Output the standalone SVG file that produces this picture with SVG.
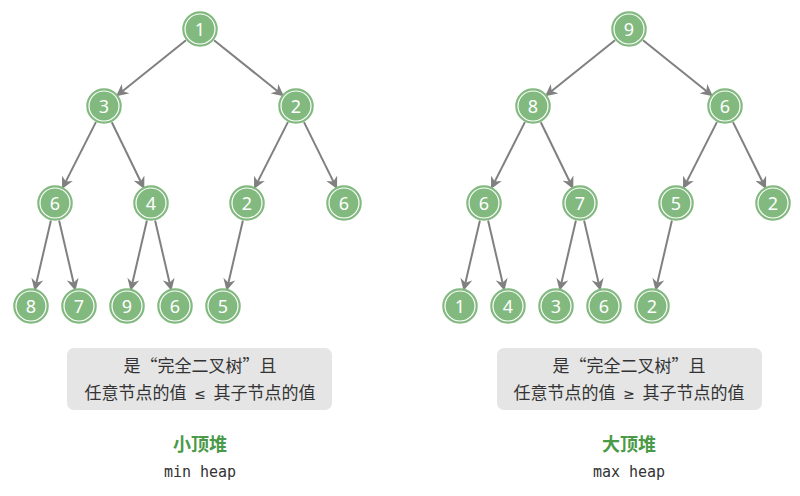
<svg xmlns="http://www.w3.org/2000/svg" width="800" height="496" viewBox="0 0 800 496">
<style>
.n text{font-family:"Noto Sans","DejaVu Sans",sans-serif;font-size:18px;fill:#fff;text-anchor:middle;dominant-baseline:central}
.e line{stroke:#808080;stroke-width:2;marker-end:url(#a)}
.box{fill:#e5e5e5}
.bt{font-family:"Noto Sans CJK SC","Noto Sans",sans-serif;font-size:17px;fill:#333;text-anchor:middle;white-space:pre}
.sym{font-family:"Noto Sans","DejaVu Sans",sans-serif;font-size:14px}
.ti{font-family:"Noto Sans CJK SC",sans-serif;font-size:18px;font-weight:bold;fill:#4a9a48;text-anchor:middle}
.sub{font-family:"DejaVu Sans Mono","Liberation Mono",monospace;font-size:15px;fill:#333;text-anchor:middle}
</style>
<defs>
<marker id="a" viewBox="0 0 10 10" refX="8" refY="5" markerWidth="6" markerHeight="6" orient="auto" markerUnits="strokeWidth"><path d="M0,0 L10,5 L0,10 L3,5 Z" fill="#808080"/></marker>
<g id="c"><circle r="17" fill="#82b97f" stroke="#82b97f" stroke-width="1.5"/><circle r="15" fill="none" stroke="#ffffff" stroke-width="1.2"/></g>
</defs>
<g id="connectors">
<g class="e" id="left-edges">
<line x1="186" y1="40.3" x2="118" y2="94.7"/>
<line x1="214" y1="40.3" x2="282" y2="94.7"/>
<line x1="95.9" y1="122.1" x2="63.1" y2="186.9"/>
<line x1="111.8" y1="122.2" x2="143.2" y2="186.8"/>
<line x1="287.9" y1="122.1" x2="255.1" y2="186.9"/>
<line x1="304" y1="122.1" x2="336" y2="186.9"/>
<line x1="50.9" y1="220.5" x2="35.1" y2="288.5"/>
<line x1="59.1" y1="220.5" x2="74.9" y2="288.5"/>
<line x1="146.9" y1="220.5" x2="131.1" y2="288.5"/>
<line x1="155.1" y1="220.5" x2="170.9" y2="288.5"/>
<line x1="242.9" y1="220.5" x2="227.1" y2="288.5"/>
</g>
<g class="e" id="right-edges" transform="translate(429,0)">
<line x1="186" y1="40.3" x2="118" y2="94.7"/>
<line x1="214" y1="40.3" x2="282" y2="94.7"/>
<line x1="95.9" y1="122.1" x2="63.1" y2="186.9"/>
<line x1="111.8" y1="122.2" x2="143.2" y2="186.8"/>
<line x1="287.9" y1="122.1" x2="255.1" y2="186.9"/>
<line x1="304" y1="122.1" x2="336" y2="186.9"/>
<line x1="50.9" y1="220.5" x2="35.1" y2="288.5"/>
<line x1="59.1" y1="220.5" x2="74.9" y2="288.5"/>
<line x1="146.9" y1="220.5" x2="131.1" y2="288.5"/>
<line x1="155.1" y1="220.5" x2="170.9" y2="288.5"/>
<line x1="242.9" y1="220.5" x2="227.1" y2="288.5"/>
</g>
</g>
<g id="L1" class="n" transform="translate(200,29)"><use href="#c"/><text>1</text></g>
<g id="L2" class="n" transform="translate(104,106)"><use href="#c"/><text>3</text></g>
<g id="L3" class="n" transform="translate(296,106)"><use href="#c"/><text>2</text></g>
<g id="L4" class="n" transform="translate(55,203)"><use href="#c"/><text>6</text></g>
<g id="L5" class="n" transform="translate(151,203)"><use href="#c"/><text>4</text></g>
<g id="L6" class="n" transform="translate(247,203)"><use href="#c"/><text>2</text></g>
<g id="L7" class="n" transform="translate(344,203)"><use href="#c"/><text>6</text></g>
<g id="L8" class="n" transform="translate(31,306)"><use href="#c"/><text>8</text></g>
<g id="L9" class="n" transform="translate(79,306)"><use href="#c"/><text>7</text></g>
<g id="L10" class="n" transform="translate(127,306)"><use href="#c"/><text>9</text></g>
<g id="L11" class="n" transform="translate(175,306)"><use href="#c"/><text>6</text></g>
<g id="L12" class="n" transform="translate(223,306)"><use href="#c"/><text>5</text></g>
<g id="R1" class="n" transform="translate(629,29)"><use href="#c"/><text>9</text></g>
<g id="R2" class="n" transform="translate(533,106)"><use href="#c"/><text>8</text></g>
<g id="R3" class="n" transform="translate(725,106)"><use href="#c"/><text>6</text></g>
<g id="R4" class="n" transform="translate(484,203)"><use href="#c"/><text>6</text></g>
<g id="R5" class="n" transform="translate(580,203)"><use href="#c"/><text>7</text></g>
<g id="R6" class="n" transform="translate(676,203)"><use href="#c"/><text>5</text></g>
<g id="R7" class="n" transform="translate(773,203)"><use href="#c"/><text>2</text></g>
<g id="R8" class="n" transform="translate(460,306)"><use href="#c"/><text>1</text></g>
<g id="R9" class="n" transform="translate(508,306)"><use href="#c"/><text>4</text></g>
<g id="R10" class="n" transform="translate(556,306)"><use href="#c"/><text>3</text></g>
<g id="R11" class="n" transform="translate(604,306)"><use href="#c"/><text>6</text></g>
<g id="R12" class="n" transform="translate(652,306)"><use href="#c"/><text>2</text></g>
<g id="left-label">
<rect class="box" x="67" y="348" width="265" height="62" rx="7"/>
<text class="bt" x="200" y="372">是“完全二叉树”且</text>
<text class="bt" x="200" y="399" xml:space="preserve">任意节点的值  <tspan class="sym">≤</tspan>  其子节点的值</text>
<text class="ti" x="200" y="451">小顶堆</text>
<text class="sub" x="200" y="477">min heap</text>
</g>
<g id="right-label">
<rect class="box" x="497" y="348" width="265" height="62" rx="7"/>
<text class="bt" x="629" y="372">是“完全二叉树”且</text>
<text class="bt" x="629" y="399" xml:space="preserve">任意节点的值  <tspan class="sym">≥</tspan>  其子节点的值</text>
<text class="ti" x="629" y="451">大顶堆</text>
<text class="sub" x="629" y="477">max heap</text>
</g>
</svg>
